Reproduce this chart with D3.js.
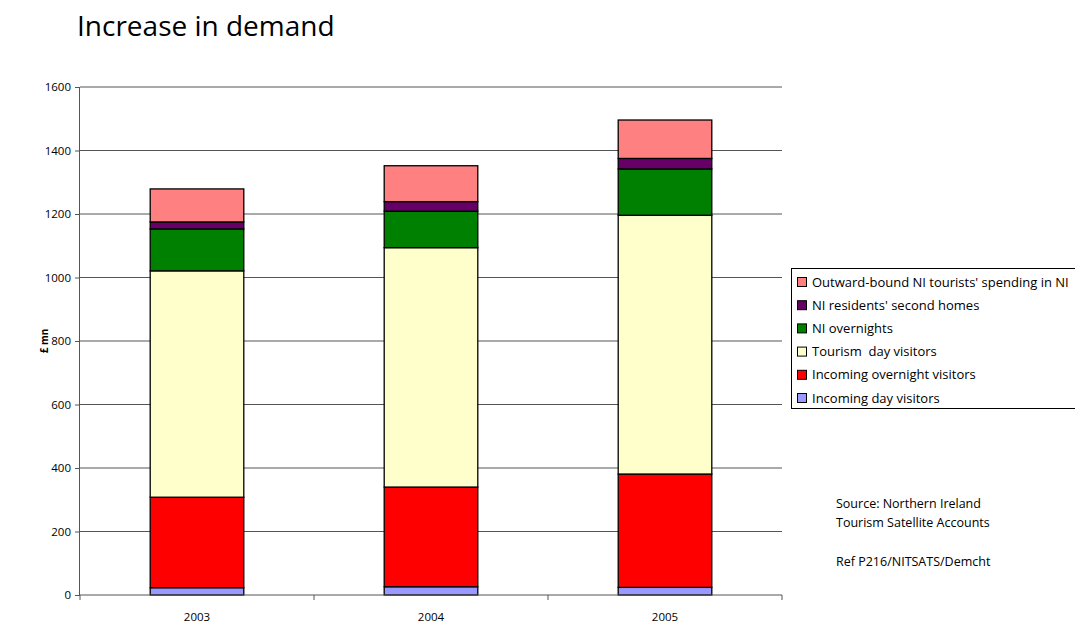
<!DOCTYPE html>
<html>
<head>
<meta charset="utf-8">
<script src="https://cdn.jsdelivr.net/npm/d3@7"></script>
<style>
  body { margin: 0; background: #fff; }
  text { font-family: "Open Sans", "Noto Sans", sans-serif; }
</style>
</head>
<body>
<div id="chart"></div>
<script>
// data
const years = ['2003', '2004', '2005'];
const seriesNames = [
  'Incoming day visitors',
  'Incoming overnight visitors',
  'Tourism  day visitors',
  'NI overnights',
  "NI residents' second homes",
  "Outward-bound NI tourists' spending in NI"
];
const seriesColors = ['#9999ff', '#ff0000', '#ffffcc', '#008000', '#660066', '#ff8080'];
const incomingDay = [23, 26, 24];
const incomingOvernight = [285, 314, 357];
const tourismDay = [713, 754, 815];
const niOvernights = [132, 115, 146];
const secondHomes = [22, 30, 33];
const outwardBound = [104, 113, 121];
const yTicks = [0, 200, 400, 600, 800, 1000, 1200, 1400, 1600];

const allSeries = [incomingDay, incomingOvernight, tourismDay, niOvernights, secondHomes, outwardBound];

const W = 1075, H = 628;
const margin = { left: 80, top: 87, right: 293, bottom: 33 };
const width = W - margin.left - margin.right,
      height = H - margin.top - margin.bottom;

const svg = d3.select('#chart').append('svg')
  .attr('width', W).attr('height', H);

// title
svg.append('text')
  .attr('x', 77).attr('y', 36)
  .style('font-size', '28px')
  .style('fill', '#000')
  .text('Increase in demand');

const g = svg.append('g')
  .attr('transform', `translate(${margin.left},${margin.top})`);

// build a table for d3.stack
const table = years.map((yr, i) => {
  const row = { year: yr };
  seriesNames.forEach((s, j) => { row[s] = allSeries[j][i]; });
  return row;
});
const stacked = d3.stack().keys(seriesNames)(table);

const x = d3.scaleBand()
  .domain(years)
  .range([0, width])
  .paddingInner(0.6)
  .paddingOuter(0.3);

const y = d3.scaleLinear()
  .domain([0, 1600])
  .range([height, 0]);

// gridlines
g.append('g')
  .selectAll('line')
  .data(yTicks.filter(d => d > 0))
  .enter().append('line')
  .attr('x1', 0).attr('x2', width)
  .attr('y1', d => y(d)).attr('y2', d => y(d))
  .style('stroke', '#555')
  .style('stroke-width', 1);

// bars
g.selectAll('.layer')
  .data(stacked)
  .enter().append('g')
  .attr('class', 'layer')
  .style('fill', (d, i) => seriesColors[i])
  .selectAll('rect')
  .data(d => d)
  .enter().append('rect')
  .attr('x', d => x(d.data.year))
  .attr('width', x.bandwidth())
  .attr('y', d => y(d[1]))
  .attr('height', d => y(d[0]) - y(d[1]))
  .style('stroke', '#000')
  .style('stroke-width', 1.3);

// y axis
const yAxis = g.append('g')
  .call(d3.axisLeft(y).tickValues(yTicks).tickSize(5).tickPadding(4).tickFormat(d3.format('d')));
yAxis.select('.domain').attr('d', `M-0.5,0V${height}`).style('stroke', '#555');
yAxis.selectAll('line').style('stroke', '#555');
yAxis.selectAll('text').style('font-size', '11.5px').style('fill', '#000')
  .style('font-family', '"Open Sans", sans-serif');

// x axis: category labels centred, ticks between categories
const xAxis = g.append('g')
  .attr('transform', `translate(0,${height})`);
xAxis.append('line')
  .attr('x1', 0).attr('x2', width)
  .attr('y1', 0).attr('y2', 0)
  .style('stroke', '#555');
const bounds = d3.range(years.length + 1).map(i => i * width / years.length);
xAxis.selectAll('.xtick')
  .data(bounds)
  .enter().append('line')
  .attr('x1', d => d).attr('x2', d => d)
  .attr('y1', 0).attr('y2', 5)
  .style('stroke', '#555');
xAxis.selectAll('.xlabel')
  .data(years)
  .enter().append('text')
  .attr('x', d => x(d) + x.bandwidth() / 2)
  .attr('y', 26)
  .attr('text-anchor', 'middle')
  .style('font-size', '11.5px')
  .text(d => d);

// y axis title
svg.append('text')
  .attr('transform', `translate(48,${margin.top + height / 2}) rotate(-90)`)
  .attr('text-anchor', 'middle')
  .style('font-size', '10px')
  .style('font-weight', 'bold')
  .text('£ mn');

// legend
const legendX = 791, legendY = 268;
svg.append('rect')
  .attr('x', legendX + 0.5).attr('y', legendY + 0.5)
  .attr('width', 300).attr('height', 140)
  .style('fill', '#fff')
  .style('stroke', '#000');

const legendData = seriesNames.map((s, i) => ({ label: s, color: seriesColors[i] })).reverse();
const legend = svg.selectAll('.legend')
  .data(legendData)
  .enter().append('g')
  .attr('class', 'legend')
  .attr('transform', (d, i) => `translate(${legendX + 6},${legendY + 14 + i * 23.2})`);
legend.append('rect')
  .attr('x', 0.5).attr('y', -4.5)
  .attr('width', 9).attr('height', 9)
  .style('fill', d => d.color)
  .style('stroke', '#000');
legend.append('text')
  .attr('x', 15).attr('y', 0)
  .attr('dy', '0.35em')
  .style('font-size', '13px')
  .style('white-space', 'pre')
  .text(d => d.label);

// source note
const notes = [
  { t: 'Source: Northern Ireland', y: 508 },
  { t: 'Tourism Satellite Accounts', y: 527 },
  { t: 'Ref P216/NITSATS/Demcht', y: 566 }
];
svg.selectAll('.note')
  .data(notes)
  .enter().append('text')
  .attr('x', 836).attr('y', d => d.y)
  .style('font-size', '12.5px')
  .text(d => d.t);
</script>
</body>
</html>
